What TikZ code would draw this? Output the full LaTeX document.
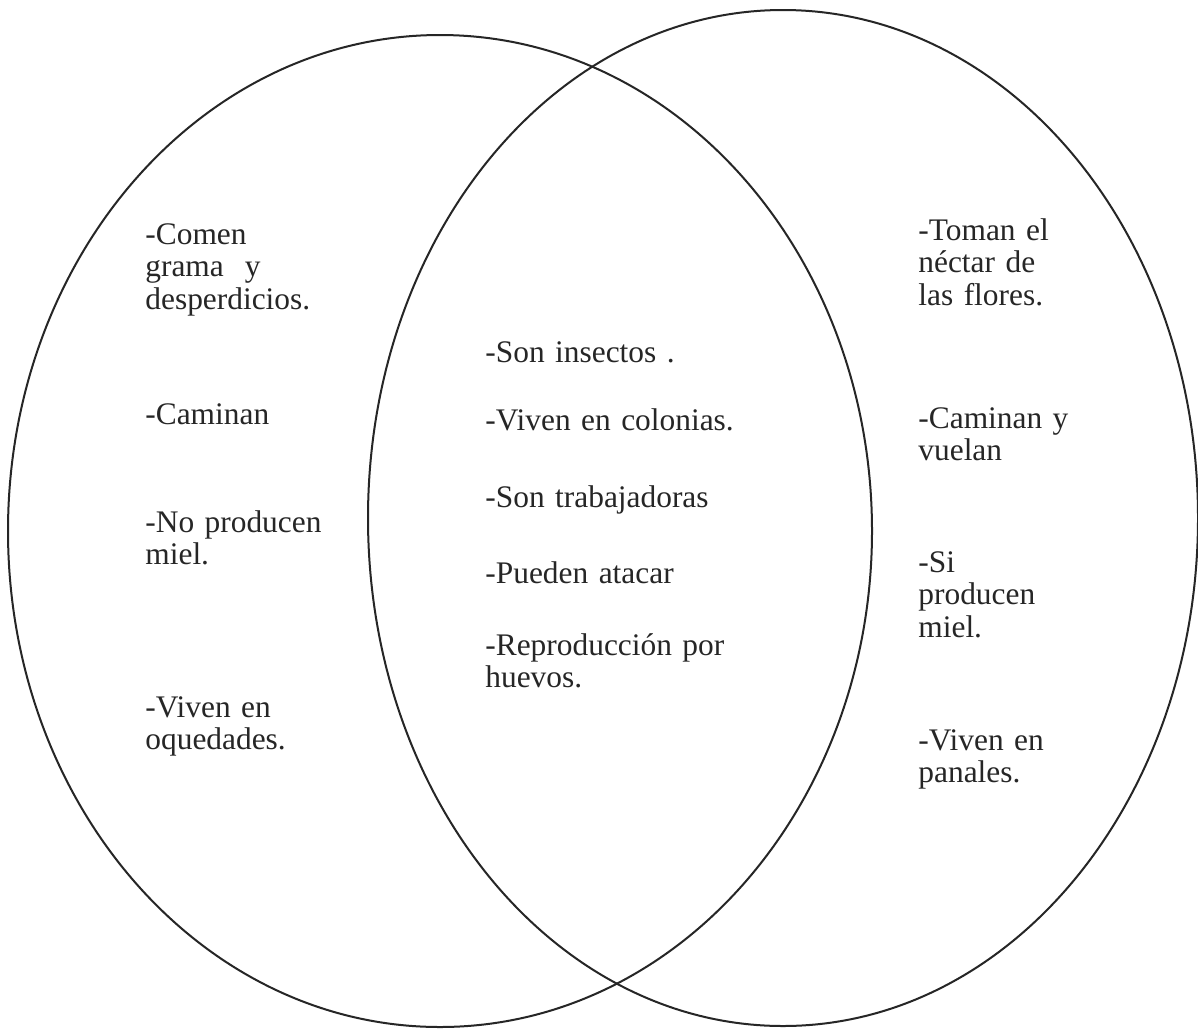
\documentclass[tikz,border=0pt]{standalone}
\usepackage{fontspec}
\setmainfont{Liberation Serif}
\begin{document}
\begin{tikzpicture}[x=0.5pt,y=-0.5pt,
  setline/.style={draw=black!85,line width=1pt},
  item/.style={anchor=base west,inner sep=0pt,text width=170pt,align=left,
    font=\fontsize{15.7}{16.4}\selectfont,text=black!85}]
  \useasboundingbox (0,0) rectangle (1198,1029);
  \fill[white] (0,0) rectangle (1198,1029);

  % the two sets
  \draw[setline] (440,531) ellipse [x radius=216pt, y radius=248pt];
  \draw[setline] (783,518) ellipse [x radius=207.5pt, y radius=254pt];

  % left set
  \node[item] (l1) at (145,244) {-Comen\\grama~ y\\desperdicios.};
  \node[item] (l2) at (145,424) {-Caminan};
  \node[item] (l3) at (145,532) {-No producen\\miel.};
  \node[item] (l4) at (145,717) {-Viven en\\oquedades.};

  % shared traits
  \node[item] (c1) at (485,362) {-Son insectos .};
  \node[item] (c2) at (485,430) {-Viven en colonias.};
  \node[item] (c3) at (485,507) {-Son trabajadoras};
  \node[item] (c4) at (485,583) {-Pueden atacar};
  \node[item] (c5) at (485,655) {-Reproducción por\\huevos.};

  % right set
  \node[item] (r1) at (918,240) {-Toman el\\néctar de\\las flores.};
  \node[item] (r2) at (918,428) {-Caminan y\\vuelan};
  \node[item] (r3) at (918,572) {-Si\\producen\\miel.};
  \node[item] (r4) at (918,750) {-Viven en\\panales.};
\end{tikzpicture}
\end{document}
